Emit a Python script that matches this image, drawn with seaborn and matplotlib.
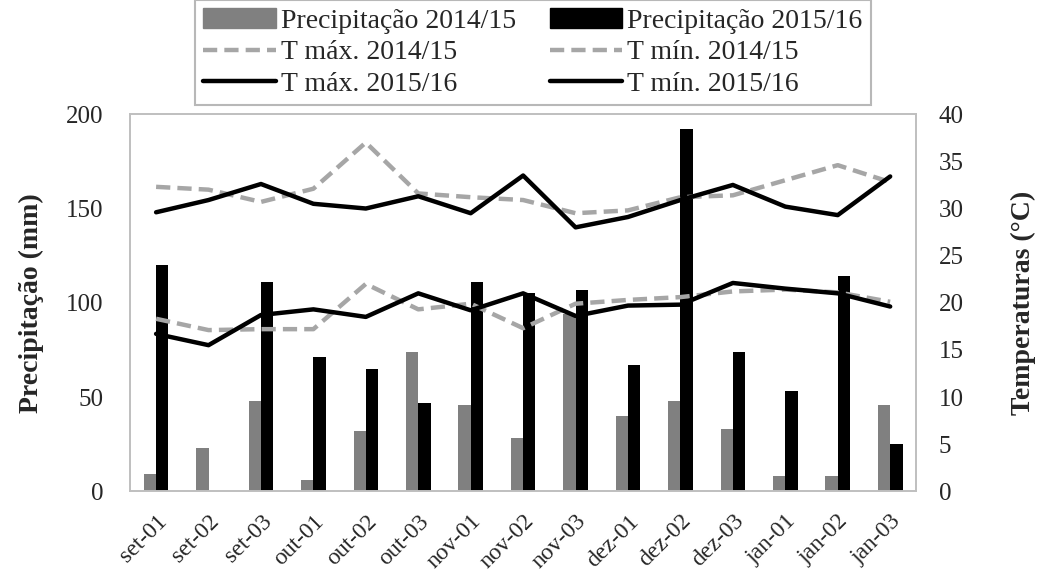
import numpy as np
import pandas as pd
import matplotlib
matplotlib.use("Agg")
import matplotlib.pyplot as plt
import seaborn as sns
from matplotlib.patches import Patch
from matplotlib.lines import Line2D

# decendios (set a jan)
periodos = ["set-01", "set-02", "set-03", "out-01", "out-02", "out-03",
            "nov-01", "nov-02", "nov-03", "dez-01", "dez-02", "dez-03",
            "jan-01", "jan-02", "jan-03"]

# precipitacao (mm)
prec_1415 = [9, 23, 48, 6, 32, 74, 46, 28, 94, 40, 48, 33, 8, 8, 46]
prec_1516 = [120, 0, 111, 71, 65, 47, 111, 105, 107, 67, 192, 74, 53, 114, 25]

# temperaturas (C)
tmax_1415 = [32.3, 32.0, 30.7, 32.1, 37.0, 31.6, 31.2, 30.9, 29.5, 29.8, 31.2, 31.4, 33.0, 34.6, 32.8]
tmin_1415 = [18.3, 17.1, 17.2, 17.2, 22.0, 19.3, 19.9, 17.3, 19.9, 20.3, 20.6, 21.2, 21.4, 21.1, 20.1]
tmax_1516 = [29.6, 30.9, 32.6, 30.5, 30.0, 31.3, 29.5, 33.5, 28.0, 29.1, 30.9, 32.5, 30.2, 29.3, 33.4]
tmin_1516 = [16.7, 15.5, 18.7, 19.3, 18.5, 21.0, 19.2, 21.0, 18.6, 19.7, 19.8, 22.1, 21.5, 21.0, 19.6]

sns.set_theme(style="white")
plt.rcParams['font.family'] = ['Liberation Serif', 'DejaVu Serif']

bars = pd.DataFrame({
    'periodo': periodos * 2,
    'prec': prec_1415 + prec_1516,
    'safra': ['Precipitação 2014/15'] * len(periodos) + ['Precipitação 2015/16'] * len(periodos),
})

fig = plt.figure(figsize=(10.39, 5.8), dpi=100)
ax = fig.add_axes([0.125, 0.153, 0.757, 0.65])

sns.barplot(data=bars, x='periodo', y='prec', hue='safra',
            palette=['#808080', '#000000'], width=0.47, gap=0,
            saturation=1, linewidth=0, legend=False, ax=ax)

ax2 = ax.twinx()
cinza = '#A6A6A6'
tracejado = (0, (3.2, 1.6))
sns.lineplot(x=periodos, y=tmax_1415, ax=ax2, color=cinza, linewidth=3.2,
             linestyle=tracejado, errorbar=None, sort=False)
sns.lineplot(x=periodos, y=tmin_1415, ax=ax2, color=cinza, linewidth=3.2,
             linestyle=tracejado, errorbar=None, sort=False)
sns.lineplot(x=periodos, y=tmax_1516, ax=ax2, color='black', linewidth=3.2,
             errorbar=None, sort=False)
sns.lineplot(x=periodos, y=tmin_1516, ax=ax2, color='black', linewidth=3.2,
             errorbar=None, sort=False)

ax.set_xlim(-0.5, len(periodos) - 0.5)
ax.set_ylim(0, 200)
ax2.set_ylim(0, 40)
ax.set_yticks([0, 50, 100, 150, 200])
ax2.set_yticks(range(0, 41, 5))

ax.set_xlabel('')
ax.set_ylabel('Precipitação (mm)', fontsize=20, fontweight='bold', labelpad=16)
ax2.set_ylabel('Temperaturas (°C)', fontsize=20, fontweight='bold', labelpad=34)

ax.tick_params(axis='y', labelsize=18, length=0, pad=19)
ax2.tick_params(axis='y', labelsize=18, length=0, pad=16)
ax.tick_params(axis='x', labelsize=17, length=0, pad=14)
for lab in ax.get_xticklabels():
    lab.set_rotation(45)
    lab.set_ha('right')
    lab.set_rotation_mode('anchor')

for a in (ax, ax2):
    for s in a.spines.values():
        s.set_color('#BFBFBF')
        s.set_linewidth(1.2)

handles = [
    Patch(color='#808080'),
    Line2D([], [], color=cinza, linewidth=3.2, linestyle=tracejado),
    Line2D([], [], color='black', linewidth=3.2),
    Patch(color='#000000'),
    Line2D([], [], color=cinza, linewidth=3.2, linestyle=tracejado),
    Line2D([], [], color='black', linewidth=3.2),
]
labels = ['Precipitação 2014/15', 'T máx. 2014/15', 'T máx. 2015/16',
          'Precipitação 2015/16', 'T mín. 2014/15', 'T mín. 2015/16']
leg = fig.legend(handles, labels, ncol=2, loc='upper center',
                 bbox_to_anchor=(0.513, 1.0), frameon=True, fancybox=False,
                 fontsize=20, handlelength=2.6, handletextpad=0.2,
                 columnspacing=1.2, labelspacing=0.22, borderpad=0.3,
                 borderaxespad=0)
leg.get_frame().set_edgecolor('#A6A6A6')
leg.get_frame().set_linewidth(1.5)

fig.savefig('out.png', dpi=100)
